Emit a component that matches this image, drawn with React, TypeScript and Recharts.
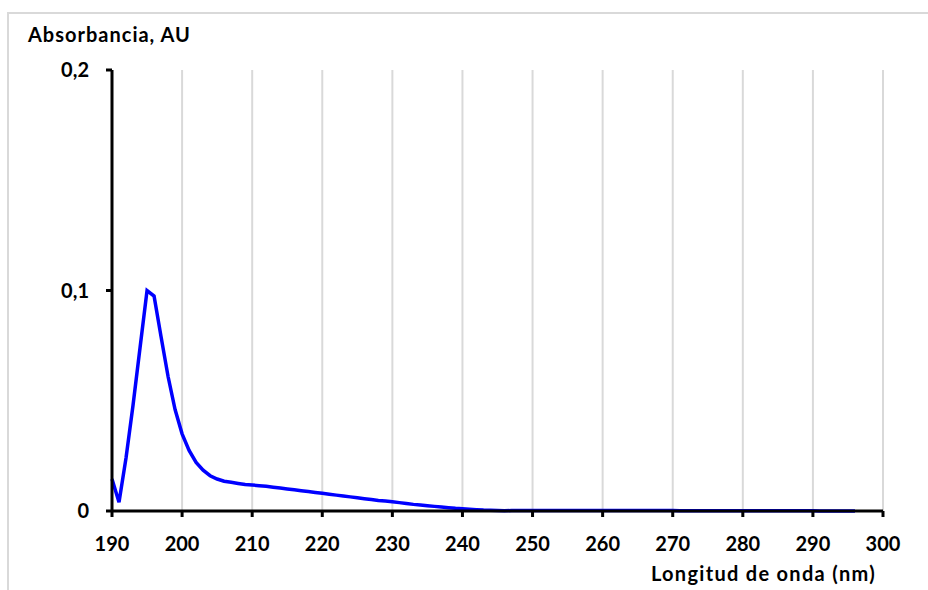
import { CartesianGrid, Line, LineChart, XAxis, YAxis } from "recharts";

// wavelength (nm), 1 nm steps
const wavelengths = [
  190, 191, 192, 193, 194, 195, 196, 197, 198, 199,
  200, 201, 202, 203, 204, 205, 206, 207, 208, 209,
  210, 211, 212, 213, 214, 215, 216, 217, 218, 219,
  220, 221, 222, 223, 224, 225, 226, 227, 228, 229,
  230, 231, 232, 233, 234, 235, 236, 237, 238, 239,
  240, 241, 242, 243, 244, 245, 246, 247, 248, 249,
  250, 251, 252, 253, 254, 255, 256, 257, 258, 259,
  260, 261, 262, 263, 264, 265, 266, 267, 268, 269,
  270, 271, 272, 273, 274, 275, 276, 277, 278, 279,
  280, 281, 282, 283, 284, 285, 286, 287, 288, 289,
  290, 291, 292, 293, 294, 295, 296,
];

// absorbance (AU)
const absorbance = [
  0.0145, 0.004, 0.024, 0.048, 0.074, 0.1, 0.0975, 0.079, 0.061, 0.046,
  0.035, 0.0275, 0.022, 0.0185, 0.016, 0.0145, 0.0135, 0.013, 0.0125, 0.012,
  0.0118, 0.0115, 0.0112, 0.0108, 0.0104, 0.01, 0.0096, 0.0092, 0.0088, 0.0084,
  0.008, 0.0076, 0.0072, 0.0068, 0.0064, 0.006, 0.0056, 0.0052, 0.0048, 0.0045,
  0.0042, 0.0038, 0.0034, 0.003, 0.0027, 0.0024, 0.0021, 0.0018, 0.0015, 0.0012,
  0.001, 0.0008, 0.0006, 0.0004, 0.0003, 0.0002, 0.0001, 0.0002, 0.0002, 0.0002,
  0.0002, 0.0002, 0.0002, 0.0002, 0.0002, 0.0002, 0.0002, 0.0002, 0.0002, 0.0002,
  0.0002, 0.0002, 0.0002, 0.0002, 0.0002, 0.0002, 0.0002, 0.0002, 0.0002, 0.0002,
  0.0002, 0.0001, 0.0001, 0.0001, 0.0001, 0.0001, 0.0001, 0.0001, 0.0001, 0.0001,
  0.0001, 0.0001, 0.0001, 0.0001, 0.0001, 0.0001, 0.0001, 0.0001, 0.0001, 0.0001,
  0.0001, 0, 0, 0, 0, 0, 0,
];

const xTicks = [190, 200, 210, 220, 230, 240, 250, 260, 270, 280, 290, 300];
const yTicks = [0, 0.1, 0.2];

const yTitle = "Absorbancia, AU";
const xTitle = "Longitud de onda (nm)";

const FONT = "Lato, 'Open Sans', sans-serif";
const tickStyle = { fill: "#000", fontSize: 20, fontWeight: 700, fontFamily: FONT };

export default function App() {
  const rows = wavelengths.map((nm, i) => ({ nm, a: absorbance[i] }));

  return (
    <div style={{ position: "fixed", left: 0, top: 0, width: 928, height: 590, overflow: "hidden", background: "#fff" }}>
      {/* outer frame, cut by the window on the right and bottom */}
      <div
        style={{
          position: "absolute",
          left: 7,
          top: 12,
          width: 1000,
          height: 700,
          borderTop: "2px solid #d9d9d9",
          borderLeft: "2px solid #d9d9d9",
        }}
      />
      <div style={{ position: "absolute", left: 0, top: 0 }}>
        <LineChart width={928} height={590} data={rows} margin={{ top: 70, right: 45, left: 0, bottom: 0 }}>
          <CartesianGrid horizontal={false} stroke="#d9d9d9" strokeWidth={2} />
          <XAxis
            dataKey="nm"
            type="number"
            domain={[190, 300]}
            ticks={xTicks}
            interval={0}
            height={79}
            axisLine={{ stroke: "#000", strokeWidth: 3 }}
            tickLine={{ stroke: "#000", strokeWidth: 3 }}
            tickSize={6}
            tickMargin={20}
            tick={tickStyle}
          />
          <YAxis
            type="number"
            domain={[0, 0.2]}
            ticks={yTicks}
            interval={0}
            width={112}
            axisLine={{ stroke: "#000", strokeWidth: 3 }}
            tickLine={{ stroke: "#000", strokeWidth: 3 }}
            tickSize={6}
            tickMargin={17}
            tick={tickStyle}
            tickFormatter={(v: number) => String(v).replace(".", ",")}
          />
          <Line
            dataKey="a"
            type="linear"
            stroke="#0000ff"
            strokeWidth={3.5}
            dot={false}
            activeDot={false}
            isAnimationActive={false}
          />
        </LineChart>
      </div>
      <svg width={928} height={590} style={{ position: "absolute", left: 0, top: 0, pointerEvents: "none" }}>
        <text x={28} y={42} fontFamily={FONT} fontWeight={700} fontSize={20} letterSpacing={1} fill="#000">
          {yTitle}
        </text>
        <text x={876} y={581} textAnchor="end" fontFamily={FONT} fontWeight={700} fontSize={20} letterSpacing={1.3} fill="#000">
          {xTitle}
        </text>
      </svg>
    </div>
  );
}
